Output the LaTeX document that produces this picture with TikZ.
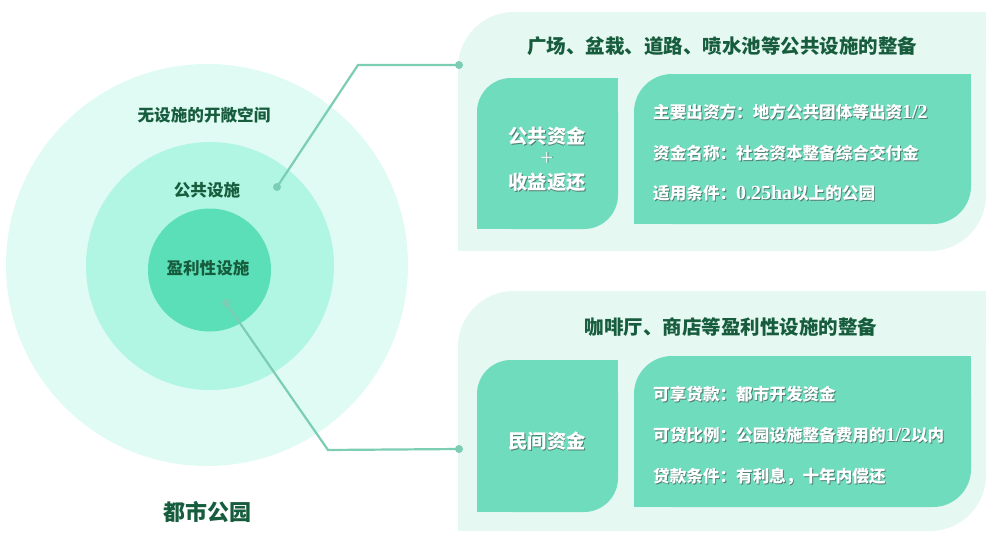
\documentclass[tikz,border=0pt]{standalone}
\usepackage{fontspec}
\setmainfont{Noto Sans CJK SC}
\newfontfamily\latf{Liberation Serif}[Scale=1.2]
\usetikzlibrary{calc}
\definecolor{ringA}{HTML}{DFFBF3}
\definecolor{ringB}{HTML}{B1F6E2}
\definecolor{ringC}{HTML}{5BDFB9}
\definecolor{panelc}{HTML}{E5F8F1}
\definecolor{boxc}{HTML}{6FDCBE}
\definecolor{darkt}{HTML}{165C3D}
\definecolor{linec}{HTML}{7BCDB4}
\definecolor{shc}{HTML}{4F7F71}
\newcommand\wsh[1]{\rlap{\hspace{0.9pt}\raisebox{-0.9pt}{\textcolor{shc}{#1}}}#1}
\newcommand\lt[1]{{\latf\bfseries #1}}
\newcommand\leafbox[6]{%
  \fill[#1,rounded corners=#6] (#2,#3) rectangle (#4,#5);
  \fill[#1] ($(#2,#3)!0.5!(#4,#5)$) rectangle (#4,#3);
  \fill[#1] ($(#2,#3)!0.5!(#4,#5)$) rectangle (#2,#5);}
\begin{document}
\begin{tikzpicture}[x=1pt,y=-1pt,
  ringlabel/.style={text=darkt,font=\fontsize{16.6}{20}\selectfont\bfseries,inner sep=0pt},
  paneltitle/.style={text=darkt,font=\fontsize{19.5}{24}\selectfont\bfseries,inner sep=0pt},
  boxtitle/.style={text=white,font=\fontsize{19.3}{23}\selectfont\bfseries,inner sep=0pt},
  infoline/.style={text=white,font=\fontsize{16.6}{20}\selectfont\bfseries,inner sep=0pt,anchor=west},
  dot/.style={circle,fill=linec,minimum size=8pt,inner sep=0pt},
  conn/.style={draw=linec,line width=2.2pt}]
\useasboundingbox (0,0) rectangle (1000,538);
\fill[white] (0,0) rectangle (1000,538);
% rings
\fill[ringA] (207,265) circle[radius=201pt];
\fill[ringB] (210,266) circle[radius=124pt];
\fill[ringC] (209.5,270) circle[radius=61.5pt];
\node[ringlabel] (open) at (204,115) {无设施的开敞空间};
\node[ringlabel] (pubf) at (207,190) {公共设施};
\node[ringlabel] (proff) at (208,268) {盈利性设施};
\node[text=darkt,font=\fontsize{22}{26}\selectfont\bfseries,inner sep=0pt] (park) at (207,512) {都市公园};
% panels
\leafbox{panelc}{458}{12}{986}{251}{56pt}
\leafbox{panelc}{458}{291}{986}{531}{56pt}
\leafbox{boxc}{477}{78}{618}{229}{34pt}
\leafbox{boxc}{634}{74}{971}{224}{38pt}
\leafbox{boxc}{477}{360}{618}{512}{34pt}
\leafbox{boxc}{634}{356}{971}{507}{38pt}
% top panel texts
\node[paneltitle] (t1) at (722,46) {广场、盆栽、道路、喷水池等公共设施的整备};
\node[boxtitle] (pa) at (547,137) {\wsh{公共资金}};
\node[boxtitle,font=\fontsize{19.3}{23}\selectfont] (pp) at (547,159) {\wsh{\latf +}};
\node[boxtitle] (pb) at (547,183) {\wsh{收益返还}};
\node[infoline] (i1) at (653,113) {\wsh{主要出资方：地方公共团体等出资\lt{1/2}}};
\node[infoline] (i2) at (653,154) {\wsh{资金名称：社会资本整备综合交付金}};
\node[infoline] (i3) at (653,194) {\wsh{适用条件：\lt{0.25ha}以上的公园}};
% bottom panel texts
\node[paneltitle] (t2) at (731,327) {咖啡厅、商店等盈利性设施的整备};
\node[boxtitle] (pm) at (547,442) {\wsh{民间资金}};
\node[infoline] (j1) at (653,395) {\wsh{可享贷款：都市开发资金}};
\node[infoline] (j2) at (653,436) {\wsh{可贷比例：公园设施整备费用的\lt{1/2}以内}};
\node[infoline] (j3) at (653,477) {\wsh{贷款条件：有利息，十年内偿还}};
% connectors
\coordinate (b1) at (358,65);
\coordinate (b2) at (328,450);
\node[dot] (d1) at (277,187) {};
\node[dot] (d2) at (459,65) {};
\node[dot] (d3) at (226,303) {};
\node[dot] (d4) at (459,449) {};
\draw[conn] (d1.center) -- (b1) -- (d2.center);
\draw[conn] (d3.center) -- (b2) -- (d4.center);
\end{tikzpicture}
\end{document}
